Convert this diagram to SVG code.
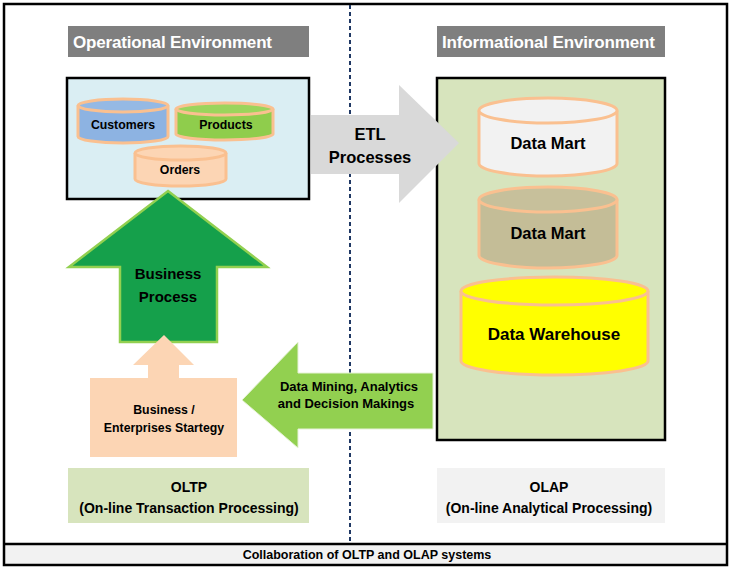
<svg xmlns="http://www.w3.org/2000/svg" width="731" height="570" viewBox="0 0 731 570">
<style>
text{font-family:"Liberation Sans",Arial,sans-serif;font-weight:bold;fill:#000;text-anchor:middle}
.hdr{fill:#fff;font-size:17px;text-anchor:start}
.cyl{stroke:#fac090;stroke-width:3}
.s12{font-size:12.3px}
.s15{font-size:15px}
.s16{font-size:16.5px}
.s14{font-size:14px}
</style>
<rect x="0" y="0" width="731" height="570" fill="#fff"/>
<g id="frame">
<rect x="4" y="544" width="723" height="21" fill="#f2f2f2"/>
<rect x="4" y="4" width="723" height="561" fill="none" stroke="#000" stroke-width="2.5"/>
<line x1="4" y1="544" x2="727" y2="544" stroke="#000" stroke-width="2.5"/>
<text x="367" y="559" style="font-size:12.5px">Collaboration of OLTP and OLAP systems</text>
</g>
<line id="divider" x1="350" y1="5" x2="350" y2="543" stroke="#1f3864" stroke-width="2" stroke-dasharray="4,3"/>
<g id="hdr-op">
<rect x="68" y="26" width="241" height="31" fill="#7f7f7f"/>
<text class="hdr" x="73" y="48" textLength="199">Operational Environment</text>
</g>
<g id="hdr-info">
<rect x="437" y="26" width="228" height="31" fill="#7f7f7f"/>
<text class="hdr" x="442" y="48" textLength="213">Informational Environment</text>
</g>
<g id="op-env">
<rect x="67" y="78" width="242" height="121" fill="#daeef3" stroke="#000" stroke-width="2.5"/>
</g>
<g id="customers">
<path class="cyl" d="M78,105.5 V136.5 A45,6.5 0 0 0 168,136.5 V105.5" fill="#8db3e2"/>
<ellipse class="cyl" cx="123" cy="105.5" rx="45" ry="6.5" fill="#95b9e4"/>
<text class="s12" x="123" y="129">Customers</text>
</g>
<g id="products">
<path class="cyl" d="M176,109 V134 A48.5,6 0 0 0 273,134 V109" fill="#8fcd4c"/>
<ellipse class="cyl" cx="224.5" cy="109" rx="48.5" ry="6" fill="#9bd55c"/>
<text class="s12" x="226" y="129">Products</text>
</g>
<g id="orders">
<path class="cyl" d="M135,153 V179 A45.5,7 0 0 0 226,179 V153" fill="#fcd5b4"/>
<ellipse class="cyl" cx="180.5" cy="153" rx="45.5" ry="7" fill="#fcd5b4"/>
<text class="s12" x="180" y="174">Orders</text>
</g>
<g id="info-env">
<rect x="437" y="78" width="228" height="362" fill="#d7e4bd" stroke="#000" stroke-width="2.5"/>
</g>
<g id="datamart1">
<path class="cyl" d="M479,110.5 V163.5 A69,12.5 0 0 0 617,163.5 V110.5" fill="#f2f2f2"/>
<ellipse class="cyl" cx="548" cy="110.5" rx="69" ry="12.5" fill="#f2f2f2"/>
<text class="s16" x="548" y="149">Data Mart</text>
</g>
<g id="datamart2">
<path class="cyl" d="M479,199.5 V255.5 A69,12.5 0 0 0 617,255.5 V199.5" fill="#c4bd97"/>
<ellipse class="cyl" cx="548" cy="199.5" rx="69" ry="12.5" fill="#c7c09b"/>
<text class="s16" x="548" y="239">Data Mart</text>
</g>
<g id="warehouse">
<path class="cyl" d="M461,291 V361 A93.5,14 0 0 0 648,361 V291" fill="#ffff00"/>
<ellipse class="cyl" cx="554.5" cy="291" rx="93.5" ry="14" fill="#ffff00"/>
<text x="554" y="340" style="font-size:17px">Data Warehouse</text>
</g>
<g id="strategy">
<rect x="90" y="378" width="147" height="79" fill="#fcd5b4"/>
<text class="s12" x="164" y="414">Business  /</text>
<text class="s12" x="164" y="432">Enterprises Startegy</text>
</g>
<g id="oltp">
<rect x="68" y="468" width="241" height="55" fill="#d7e4bd"/>
<text class="s14" x="189" y="492">OLTP</text>
<text class="s14" x="189" y="513">(On-line Transaction Processing)</text>
</g>
<g id="olap">
<rect x="437" y="468" width="228" height="55" fill="#f2f2f2"/>
<text class="s14" x="549" y="492">OLAP</text>
<text class="s14" x="549" y="513">(On-line Analytical Processing)</text>
</g>
<g id="connectors">
<g id="etl">
<polygon points="311,115 399,115 399,85 459,143 399,203 399,174 311,174" fill="#d9d9d9"/>
<text class="s16" x="370" y="140">ETL</text>
<text class="s16" x="370" y="163">Processes</text>
</g>
<g id="business-process">
<polygon points="168,191 267,267 217,267 217,342 120,342 120,267 69,267" fill="#15a04b" stroke="#92d050" stroke-width="2.5" stroke-linejoin="miter"/>
<text class="s15" x="168" y="279">Business</text>
<text class="s15" x="168" y="302">Process</text>
</g>
<g id="strategy-arrow">
<polygon points="164,335 194,365 179,365 179,379 148,379 148,365 133,365" fill="#fcd5b4"/>
</g>
<g id="data-mining">
<polygon points="242,400 298,342 298,373 433,373 433,429 298,429 298,448" fill="#92d050" stroke="#e6f2d6" stroke-width="1"/>
<text x="349" y="391" style="font-size:13px">Data Mining, Analytics</text>
<text x="346" y="408" style="font-size:13px">and Decision Makings</text>
</g>
</g>
</svg>
